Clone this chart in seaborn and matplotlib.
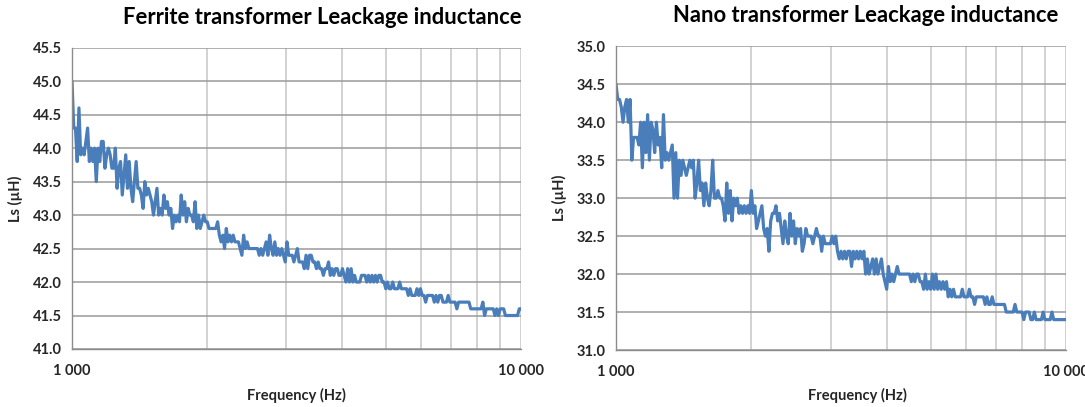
import numpy as np
import pandas as pd
import matplotlib
matplotlib.use("Agg")
import matplotlib.pyplot as plt
from matplotlib.ticker import FixedLocator, FormatStrFormatter, NullFormatter
import seaborn as sns

# ---------------- data ----------------
titles = ["Ferrite transformer Leackage inductance", "Nano transformer Leackage inductance"]
x_label = "Frequency (Hz)"
y_label = "Ls (µH)"
x_tick_values = [1000, 10000]
x_tick_labels = ["1 000", "10 000"]
y_ticks_ferrite = [41.0, 41.5, 42.0, 42.5, 43.0, 43.5, 44.0, 44.5, 45.0, 45.5]
y_ticks_nano = [31.0, 31.5, 32.0, 32.5, 33.0, 33.5, 34.0, 34.5, 35.0]
f_start, f_stop = 1000, 10000   # logarithmic frequency sweep of the analyser

ls_ferrite = [
    45.0, 44.3, 44.3, 43.8, 44.6, 43.9, 44.0, 43.9, 44.1, 44.3,
    43.8, 44.0, 43.8, 44.0, 43.5, 44.0, 43.8, 44.1, 44.1, 43.7,
    43.9, 44.0, 43.9, 43.7, 43.7, 44.0, 43.4, 43.7, 43.8, 43.3,
    43.6, 43.9, 43.4, 43.8, 43.4, 43.2, 43.5, 43.8, 43.4, 43.4,
    43.3, 43.1, 43.5, 43.3, 43.4, 43.3, 43.2, 43.0, 43.2, 43.4,
    43.0, 43.1, 43.0, 43.3, 43.1, 43.2, 43.0, 43.1, 42.8, 43.0,
    42.9, 43.0, 42.9, 43.3, 43.0, 43.2, 42.9, 43.1, 43.0, 43.0,
    42.9, 43.2, 42.8, 43.0, 42.8, 42.9, 43.0, 42.9, 42.9, 42.8,
    42.8, 42.8, 42.8, 42.8, 42.9, 42.7, 42.6, 42.7, 42.5, 42.8,
    42.6, 42.7, 42.6, 42.7, 42.6, 42.6, 42.6, 42.5, 42.4, 42.7,
    42.5, 42.6, 42.5, 42.5, 42.5, 42.5, 42.5, 42.5, 42.4, 42.5,
    42.4, 42.5, 42.6, 42.4, 42.7, 42.5, 42.4, 42.6, 42.4, 42.5,
    42.4, 42.5, 42.4, 42.3, 42.6, 42.4, 42.4, 42.4, 42.3, 42.4,
    42.5, 42.3, 42.3, 42.3, 42.2, 42.4, 42.2, 42.4, 42.4, 42.3,
    42.3, 42.2, 42.3, 42.2, 42.2, 42.1, 42.2, 42.2, 42.3, 42.1,
    42.2, 42.1, 42.2, 42.2, 42.1, 42.1, 42.2, 42.1, 42.0, 42.2,
    42.0, 42.2, 42.0, 42.1, 42.0, 42.0, 42.0, 42.1, 42.1, 42.1,
    42.0, 42.1, 42.0, 42.1, 42.0, 42.1, 42.0, 42.1, 42.1, 42.0,
    42.0, 41.9, 42.0, 41.9, 41.9, 42.0, 41.9, 41.9, 41.9, 42.0,
    41.9, 41.9, 41.9, 41.9, 41.8, 41.9, 41.8, 41.8, 41.8, 41.9,
    41.8, 41.9, 41.8, 41.8, 41.7, 41.8, 41.8, 41.8, 41.8, 41.7,
    41.8, 41.7, 41.8, 41.8, 41.7, 41.7, 41.7, 41.8, 41.7, 41.7,
    41.7, 41.7, 41.6, 41.7, 41.7, 41.7, 41.7, 41.7, 41.7, 41.7,
    41.6, 41.6, 41.6, 41.6, 41.6, 41.6, 41.6, 41.7, 41.5, 41.6,
    41.6, 41.6, 41.6, 41.6, 41.5, 41.6, 41.5, 41.6, 41.6, 41.6,
    41.5, 41.5, 41.5, 41.5, 41.5, 41.5, 41.5, 41.5, 41.6, 41.6,
]

ls_nano = [
    34.5, 34.3, 34.3, 34.2, 34.0, 34.2, 34.3, 34.0, 34.3, 33.5,
    33.8, 33.8, 33.8, 33.7, 34.0, 33.4, 34.0, 33.6, 34.1, 33.5,
    34.0, 33.9, 33.6, 34.0, 33.7, 33.8, 33.4, 34.1, 33.5, 33.6,
    33.5, 33.6, 33.7, 33.0, 33.6, 33.0, 33.5, 33.3, 33.5, 33.4,
    33.3, 33.4, 33.5, 33.4, 33.5, 33.0, 33.2, 33.5, 33.1, 33.2,
    32.9, 33.2, 33.0, 32.9, 33.1, 33.5, 33.0, 33.0, 33.1, 33.0,
    33.0, 32.9, 32.7, 33.2, 32.8, 33.1, 32.7, 33.0, 32.9, 33.0,
    32.8, 32.9, 32.8, 32.9, 32.8, 32.9, 32.8, 33.1, 32.8, 32.9,
    32.6, 32.7, 32.8, 32.9, 32.6, 32.5, 32.6, 32.3, 32.7, 32.8,
    32.8, 32.9, 32.7, 32.8, 32.6, 32.4, 32.7, 32.5, 32.4, 32.8,
    32.5, 32.7, 32.4, 32.6, 32.5, 32.6, 32.3, 32.4, 32.6, 32.5,
    32.5, 32.5, 32.4, 32.5, 32.6, 32.5, 32.5, 32.3, 32.5, 32.4,
    32.4, 32.4, 32.4, 32.5, 32.4, 32.5, 32.3, 32.2, 32.3, 32.2,
    32.3, 32.2, 32.3, 32.3, 32.1, 32.3, 32.2, 32.3, 32.2, 32.3,
    32.2, 32.3, 32.0, 32.2, 32.0, 32.1, 32.2, 32.0, 32.2, 32.0,
    32.1, 32.2, 32.0, 31.9, 31.8, 32.1, 31.9, 32.0, 31.9, 32.0,
    32.1, 32.0, 32.0, 32.0, 32.0, 32.0, 32.0, 32.0, 31.9, 32.0,
    31.9, 32.0, 32.0, 31.9, 31.9, 31.8, 32.0, 31.8, 31.9, 31.8,
    32.0, 31.8, 32.0, 31.8, 31.9, 31.8, 31.9, 31.8, 31.9, 31.7,
    31.8, 31.7, 31.8, 31.7, 31.7, 31.7, 31.7, 31.8, 31.7, 31.7,
    31.7, 31.8, 31.7, 31.7, 31.6, 31.7, 31.7, 31.7, 31.7, 31.7,
    31.6, 31.7, 31.6, 31.6, 31.7, 31.6, 31.6, 31.6, 31.6, 31.6,
    31.6, 31.6, 31.5, 31.5, 31.5, 31.5, 31.5, 31.6, 31.5, 31.5,
    31.5, 31.5, 31.4, 31.5, 31.5, 31.5, 31.4, 31.4, 31.5, 31.4,
    31.4, 31.4, 31.4, 31.5, 31.4, 31.4, 31.4, 31.4, 31.5, 31.4,
    31.4, 31.4, 31.4, 31.4, 31.4, 31.4, 31.4,
]

# ---------------- style ----------------
sns.set_style("white")
plt.rcParams["font.family"] = ["Lato", "DejaVu Sans"]

line_color = "#4A7EBB"
text_color = "#262626"
grid_major = "#9A9A9A"
grid_minor = "#C6C6C6"
spine_color = "#8C8C8C"

fig = plt.figure(figsize=(10.85, 4.07), dpi=100)

panels = [
    dict(rect=[72 / 1085, 1 - 349 / 407, 449 / 1085, 301.3 / 407], data=ls_ferrite,
         yticks=y_ticks_ferrite, title=titles[0], tx=322 / 1085, ty=1 - 18 / 407,
         xlx=296 / 1085, tfs=15.8),
    dict(rect=[616 / 1085, 1 - 350 / 407, 450 / 1085, 303.7 / 407], data=ls_nano,
         yticks=y_ticks_nano, title=titles[1], tx=866 / 1085, ty=1 - 16 / 407,
         xlx=857 / 1085, tfs=15.8),
]

for p in panels:
    ax = fig.add_axes(p["rect"])
    vals = p["data"]
    freq = np.geomspace(f_start, f_stop, len(vals))
    df = pd.DataFrame({"Frequency": freq, "Ls": vals})
    sns.lineplot(data=df, x="Frequency", y="Ls", ax=ax, color=line_color,
                 linewidth=2.3, estimator=None, sort=False)
    ax.set_xscale("log")
    ax.set_xlim(f_start, f_stop)
    ax.set_ylim(p["yticks"][0], p["yticks"][-1])
    ax.xaxis.set_major_locator(FixedLocator(x_tick_values))
    ax.set_xticklabels(x_tick_labels)
    ax.xaxis.set_minor_locator(FixedLocator(list(range(2000, 10000, 1000))))
    ax.xaxis.set_minor_formatter(NullFormatter())
    ax.yaxis.set_major_locator(FixedLocator(p["yticks"]))
    ax.yaxis.set_major_formatter(FormatStrFormatter("%.1f"))

    ax.grid(True, which="major", axis="y", color=grid_major, linewidth=1.1)
    ax.grid(True, which="both", axis="x", color=grid_minor, linewidth=1.1)
    ax.set_axisbelow(True)
    for side in ["top", "right"]:
        ax.spines[side].set_visible(False)
    for side in ["left", "bottom"]:
        ax.spines[side].set_color(spine_color)
        ax.spines[side].set_linewidth(1.0)
    ax.tick_params(axis="both", which="major", direction="out", length=4,
                   color=spine_color, width=1.0, labelsize=10.5, labelcolor=text_color)
    ax.tick_params(axis="x", which="minor", length=0)
    ax.tick_params(axis="x", which="major", pad=7)
    for lab in ax.get_xticklabels() + ax.get_yticklabels():
        lab.set_fontweight("bold")

    ax.set_xlabel("")
    ax.set_ylabel(y_label, fontsize=10.5, fontweight="bold", color=text_color, labelpad=7)
    fig.text(p["xlx"], 1 - 395 / 407, x_label, ha="center", va="center",
             fontsize=10.5, fontweight="bold", color=text_color)
    fig.text(p["tx"], p["ty"], p["title"], ha="center", va="center",
             fontsize=p["tfs"], fontweight="bold", color="black")

fig.savefig("out.png", dpi=100, facecolor="white")
